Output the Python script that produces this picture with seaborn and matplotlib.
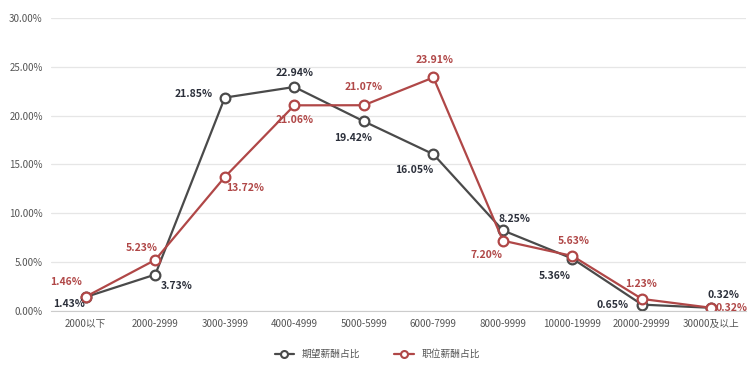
import pandas as pd
import numpy as np
import matplotlib.pyplot as plt
import seaborn as sns
from matplotlib.ticker import FuncFormatter

# Data
categories = ['2000以下', '2000-2999', '3000-3999', '4000-4999', '5000-5999',
              '6000-7999', '8000-9999', '10000-19999', '20000-29999', '30000及以上']
expected = [1.43, 3.73, 21.85, 22.94, 19.42, 16.05, 8.25, 5.36, 0.65, 0.32]
actual = [1.46, 5.23, 13.72, 21.06, 21.07, 23.91, 7.20, 5.63, 1.23, 0.32]
series_names = ['期望薪酬占比', '职位薪酬占比']

# label offsets (pixels) for each point
off_expected = [(-17, -7), (21, -11), (-31, 4), (0, 14), (-11, -17),
                (-19, -16), (12, 11), (-18, -17), (-29, 0), (12, 13)]
off_actual = [(-20, 15), (-14, 12), (20, -11), (0, -15), (0, 18),
              (1, 17), (-16, -14), (1, 15), (-1, 15), (20, 0)]

sns.set_style('white')
plt.rcParams['font.family'] = ['Noto Sans CJK SC', 'DejaVu Sans']

df = pd.DataFrame({
    'x': list(range(len(categories))) * 2,
    'value': [v / 100 for v in expected] + [v / 100 for v in actual],
    'series': [series_names[0]] * len(categories) + [series_names[1]] * len(categories),
})

gray = '#4a4a4a'
red = '#b04747'
palette = {series_names[0]: gray, series_names[1]: red}

fig = plt.figure(figsize=(7.5, 3.68), dpi=100)
ax = fig.add_axes([0.068, 0.155, 0.927, 0.796])

sns.lineplot(data=df, x='x', y='value', hue='series', palette=palette, ax=ax,
             marker='o', markersize=7, markerfacecolor='white', markeredgewidth=1.6,
             linewidth=1.6, legend=False)
for line, c in zip(ax.lines, [gray, red]):
    line.set_markeredgecolor(c)

# Labels
for i, v in enumerate(expected):
    ax.annotate(f'{v:.2f}%', (i, v / 100), xytext=off_expected[i], textcoords='offset pixels',
                ha='center', va='center', fontsize=7.5, fontweight='bold', color='#2b2f3a')
for i, v in enumerate(actual):
    ax.annotate(f'{v:.2f}%', (i, v / 100), xytext=off_actual[i], textcoords='offset pixels',
                ha='center', va='center', fontsize=7.5, fontweight='bold', color=red)

ax.set_xlim(-0.5, len(categories) - 0.5)
ax.set_ylim(0, 0.30)
ax.set_yticks(np.arange(0, 0.301, 0.05))
ax.yaxis.set_major_formatter(FuncFormatter(lambda y, _: f'{y * 100:.2f}%'))
ax.set_xticks(range(len(categories)))
ax.set_xticklabels(categories)
ax.tick_params(axis='both', labelsize=7, colors='#555555', length=0, pad=6)
ax.set_xlabel('')
ax.set_ylabel('')
ax.grid(axis='y', color='#e6e6e6', linewidth=0.9)
for s in ['top', 'right', 'left']:
    ax.spines[s].set_visible(False)
ax.spines['bottom'].set_color('#cccccc')

# Legend
handles = [plt.Line2D([], [], color=c, marker='o', markersize=5, markerfacecolor='white',
                      markeredgewidth=1.5, linewidth=1.6) for c in [gray, red]]
fig.legend(handles, series_names, loc='center', bbox_to_anchor=(0.503, 0.038), ncol=2,
           frameon=False, fontsize=7, handlelength=2, columnspacing=3.5, labelcolor='#555555')

plt.savefig('out.png')
